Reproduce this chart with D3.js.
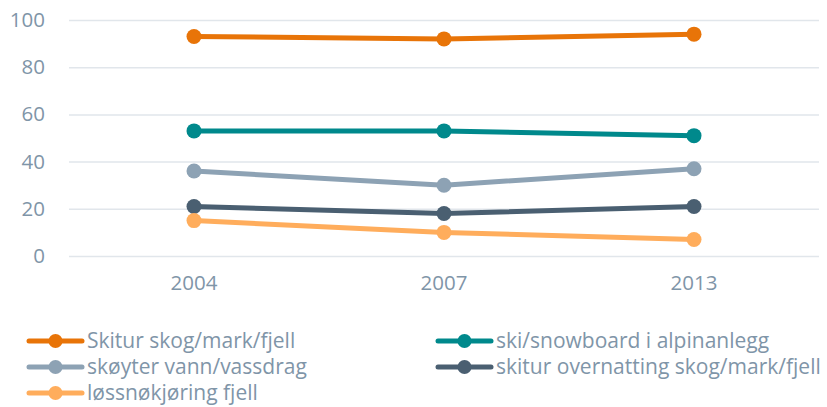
<!DOCTYPE html>
<html><head><meta charset="utf-8">
<script src="https://cdn.jsdelivr.net/npm/d3@7"></script>
<style>body{margin:0;background:#fff}svg{display:block}text{font-family:"Open Sans",sans-serif}</style>
</head><body><svg id="c" width="827" height="407"></svg>
<script>
const categories = ["2004", "2007", "2013"];
const seriesNames = ["Skitur skog/mark/fjell", "ski/snowboard i alpinanlegg", "skøyter vann/vassdrag", "skitur overnatting skog/mark/fjell", "løssnøkjøring fjell"];
const skiturSkog = [93, 92, 94];
const skiAlpin = [53, 53, 51];
const skoyter = [36, 30, 37];
const skiturOvernatting = [21, 18, 21];
const lossnokjoring = [15, 10, 7];
const yTicks = [0, 20, 40, 60, 80, 100];
const colors = ["#E87408", "#00898C", "#8DA2B4", "#4A5F71", "#FFAD5C"];
const series = [skiturSkog, skiAlpin, skoyter, skiturOvernatting, lossnokjoring];

const svg = d3.select("#c");
const x = d3.scaleBand().domain(categories).range([69, 819]);
const y = d3.scaleLinear().domain([0, 100]).range([256, 20]);
const txt = "#7F95A8";

const yAxis = svg.append("g").attr("transform", "translate(69,0)")
  .call(d3.axisLeft(y).tickValues(yTicks).tickSize(-750).tickPadding(24));
yAxis.select(".domain").remove();
yAxis.selectAll(".tick line").attr("stroke", "#E1E6EB").attr("stroke-width", 1.5);
yAxis.selectAll(".tick text").attr("fill", txt).style("font-size", "20.5px");

const xAxis = svg.append("g").attr("transform", "translate(0,256)")
  .call(d3.axisBottom(x).tickSize(0).tickPadding(19));
xAxis.select(".domain").remove();
xAxis.selectAll(".tick text").attr("fill", txt).style("font-size", "20.5px");

const line = d3.line().x((d, i) => x(categories[i]) + x.bandwidth() / 2).y(d => y(d));
series.forEach((s, k) => {
  const g = svg.append("g");
  g.append("path").attr("d", line(s)).attr("fill", "none").attr("stroke", colors[k]).attr("stroke-width", 5).attr("stroke-linejoin", "round");
  g.selectAll("circle").data(s).join("circle")
    .attr("cx", (d, i) => x(categories[i]) + x.bandwidth() / 2).attr("cy", d => y(d)).attr("r", 7.5).attr("fill", colors[k]);
});

const legendPos = [[28, 341], [437, 341], [28, 367], [437, 367], [28, 393]];
seriesNames.forEach((n, k) => {
  const [lx, ly] = legendPos[k];
  const g = svg.append("g").attr("transform", `translate(${lx},${ly})`);
  g.append("line").attr("x1", 1).attr("x2", 54).attr("y1", 0).attr("y2", 0).attr("stroke", colors[k]).attr("stroke-width", 5).attr("stroke-linecap", "round");
  g.append("circle").attr("cx", 27.5).attr("cy", 0).attr("r", 7).attr("fill", colors[k]);
  g.append("text").attr("x", 59).attr("y", 0).attr("dy", "0.35em").attr("fill", txt).style("font-size", "21px").text(n);
});
</script></body></html>
